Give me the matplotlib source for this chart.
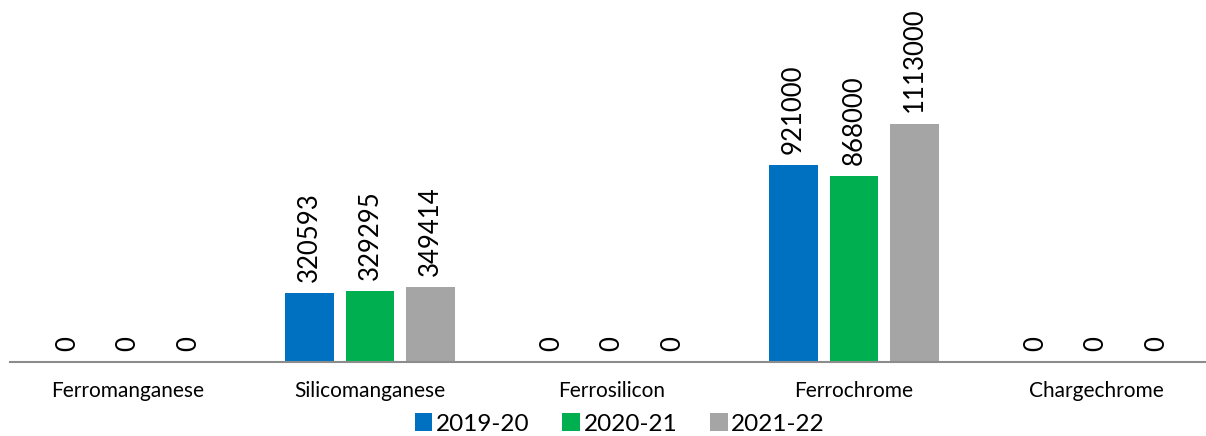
import numpy as np
import matplotlib.pyplot as plt

plt.rcParams['font.family'] = ['Lato', 'DejaVu Sans']

# data
categories = ['Ferromanganese', 'Silicomanganese', 'Ferrosilicon', 'Ferrochrome', 'Chargechrome']
years = ['2019-20', '2020-21', '2021-22']
v_2019 = [0, 320593, 0, 921000, 0]
v_2020 = [0, 329295, 0, 868000, 0]
v_2021 = [0, 349414, 0, 1113000, 0]
colors = ['#0070C0', '#00B050', '#A5A5A5']

fig = plt.figure(figsize=(12.06, 4.36), dpi=100)
ax = fig.add_axes([10/1206, 74/436, 1196/1206, 362/436])

x = np.arange(len(categories))
for i, (vals, lab, col) in enumerate(zip([v_2019, v_2020, v_2021], years, colors)):
    bars = ax.bar(x + (i - 1) * 0.25, vals, width=0.2, color=col, label=lab)
    for b, v in zip(bars, vals):
        ax.annotate(str(v), (b.get_x() + b.get_width() / 2, v),
                    xytext=(0, 8), textcoords='offset points',
                    rotation=90, ha='center', va='bottom', fontsize=18.5)

ax.set_xlim(-0.488, 4.455)
ax.set_ylim(0, 1690000)
ax.set_xticks(x)
ax.set_xticklabels(categories, fontsize=15)
ax.tick_params(axis='x', length=0, pad=14)
ax.set_yticks([])
for s in ['top', 'left', 'right']:
    ax.spines[s].set_visible(False)
ax.spines['bottom'].set_color('#8C8C8C')
ax.spines['bottom'].set_linewidth(1.5)

fig.legend(loc='center', bbox_to_anchor=(0.514, 12/436), ncol=3, frameon=False,
           fontsize=17.5, handlelength=0.72, handleheight=0.72, handletextpad=0.15,
           columnspacing=1.35)

fig.savefig('out.png', dpi=100)
